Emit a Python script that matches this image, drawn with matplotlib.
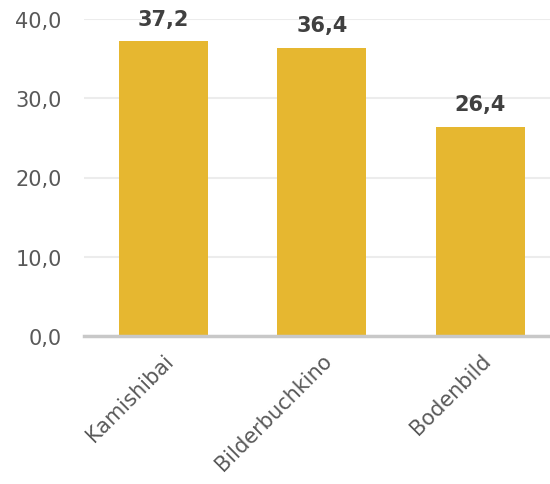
import matplotlib.pyplot as plt

plt.rcParams["font.family"] = ["DejaVu Sans"]

# Balkendaten
kategorien = ["Kamishibai", "Bilderbuchkino", "Bodenbild"]
werte = [37.2, 36.4, 26.4]
y_ticks = [0, 10, 20, 30, 40]

fig = plt.figure(figsize=(5.5, 4.85), dpi=100)
ax = fig.add_axes([84 / 550, 148 / 485, 475.5 / 550, 317 / 485])

x = range(len(kategorien))
ax.bar(x, werte, width=0.56, color="#E6B730", zorder=2)

for xi, w in zip(x, werte):
    ax.text(xi, w + 1.6, f"{w:.1f}".replace(".", ","), ha="center", va="bottom",
            fontsize=15, fontweight="bold", color="#404040", clip_on=False)

ax.set_xlim(-0.5, 2.5)
ax.set_ylim(0, 40)
ax.set_yticks(y_ticks)
ax.set_yticklabels([f"{t:.1f}".replace(".", ",") for t in y_ticks])
ax.set_xticks(list(x))
ax.set_xticklabels(kategorien, rotation=45, ha="right", rotation_mode="anchor")

ax.tick_params(axis="both", length=0, labelsize=15, labelcolor="#595959")
ax.tick_params(axis="y", pad=16)
ax.tick_params(axis="x", pad=10)

ax.grid(axis="y", color="#ececec", linewidth=1.5, zorder=0)
for s in ["top", "right", "left"]:
    ax.spines[s].set_visible(False)
ax.spines["bottom"].set_color("#c8c8c8")
ax.spines["bottom"].set_linewidth(2.5)
ax.spines["bottom"].set_zorder(3)

fig.savefig("out.png", dpi=100)
